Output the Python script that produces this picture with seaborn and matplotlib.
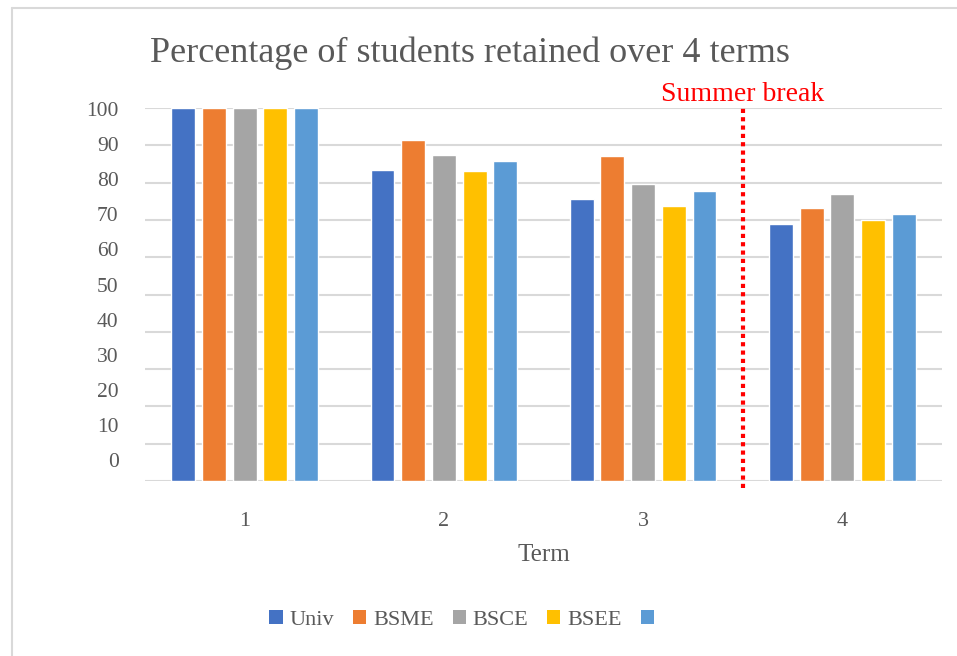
import numpy as np
import pandas as pd
import matplotlib
matplotlib.use("Agg")
import matplotlib.pyplot as plt
from matplotlib.patches import Patch
from matplotlib.lines import Line2D
from matplotlib.ticker import MultipleLocator, FixedLocator
import seaborn as sns

# ---- data ----
terms = ["1", "2", "3", "4"]
series_names = ["Univ", "BSME", "BSCE", "BSEE", "S5"]
legend_labels = ["Univ", "BSME", "BSCE", "BSEE", ""]
univ = [100, 83.3, 75.6, 68.9]
bsme = [100, 91.4, 87.1, 73.2]
bsce = [100, 87.4, 79.6, 76.9]
bsee = [100, 83.1, 73.7, 70.0]
s5 = [100, 85.8, 77.7, 71.6]
ytick_values = [0, 10, 20, 30, 40, 50, 60, 70, 80, 90, 100]
colors = ["#4472C4", "#ED7D31", "#A5A5A5", "#FFC000", "#5B9BD5"]

title = "Percentage of students retained over 4 terms"
xlabel = "Term"
annot = "Summer break"

rows = []
for name, vals in zip(series_names, [univ, bsme, bsce, bsee, s5]):
    for t, v in zip(terms, vals):
        rows.append({"Term": t, "Series": name, "Value": v})
df = pd.DataFrame(rows)

sns.set_theme(style="white")
plt.rcParams["font.family"] = ["Liberation Serif", "DejaVu Serif"]
text_color = "#595959"

W, H = 957, 656
fig = plt.figure(figsize=(W / 100, H / 100), dpi=100)
ax = fig.add_axes([145 / W, 1 - 481 / H, (942 - 145) / W, (481 - 108) / H])

sns.barplot(data=df, x="Term", y="Value", hue="Series", order=terms,
            hue_order=series_names, palette=colors, width=0.77, gap=0.22,
            saturation=1, ax=ax, legend=False, errorbar=None)

ax.set_xlim(-0.5, 3.5)
ax.set_ylim(0, 100)
for s in ax.spines.values():
    s.set_visible(False)

# gridlines at multiples of 10
ax.yaxis.set_minor_locator(MultipleLocator(10))
ax.grid(which="minor", axis="y", color="#D9D9D9", linewidth=1.5, zorder=0)
ax.grid(which="major", axis="y", visible=False)
ax.grid(axis="x", visible=False)
ax.set_axisbelow(True)

# y tick labels (rendered with compressed spacing as in the reference)
ypos = [5.63 + 0.941 * v for v in ytick_values]
ax.yaxis.set_major_locator(FixedLocator(ypos))
ax.set_yticklabels([str(v) for v in ytick_values])
ax.tick_params(axis="y", which="both", length=0, pad=19, labelsize=15.5,
               labelcolor=text_color)
ax.tick_params(axis="x", length=0, pad=22, labelsize=16, labelcolor=text_color)

ax.set_xlabel(xlabel, fontsize=18, color=text_color, labelpad=10)
ax.set_ylabel("")

# summer break dotted line
ax.plot([2.5, 2.5], [-2, 100], color="#FF0000", linestyle=(0, (1, 1)),
        linewidth=3, clip_on=False, zorder=5)
ax.text(2.5, 100.3, annot, color="#FF0000", fontsize=20, ha="center",
        va="bottom")

fig.text(150 / W, 1 - 53 / H, title, fontsize=26, color=text_color,
         ha="left", va="center")

handles = [Patch(facecolor=c, edgecolor="none") for c in colors]
fig.legend(handles, legend_labels, ncol=5, frameon=False,
           loc="center", bbox_to_anchor=(465 / W, 1 - 620 / H),
           fontsize=16, handlelength=0.6, handleheight=0.6,
           handletextpad=0.3, columnspacing=0.85, labelcolor=text_color)

# chart area border (left and top visible)
fig.add_artist(Line2D([11.5 / W, 11.5 / W], [0, 1 - 8 / H],
                      transform=fig.transFigure, color="#D9D9D9", lw=1.5))
fig.add_artist(Line2D([11.5 / W, 1], [1 - 8 / H, 1 - 8 / H],
                      transform=fig.transFigure, color="#D9D9D9", lw=1.5))

fig.savefig("out.png", dpi=100, facecolor="white")
